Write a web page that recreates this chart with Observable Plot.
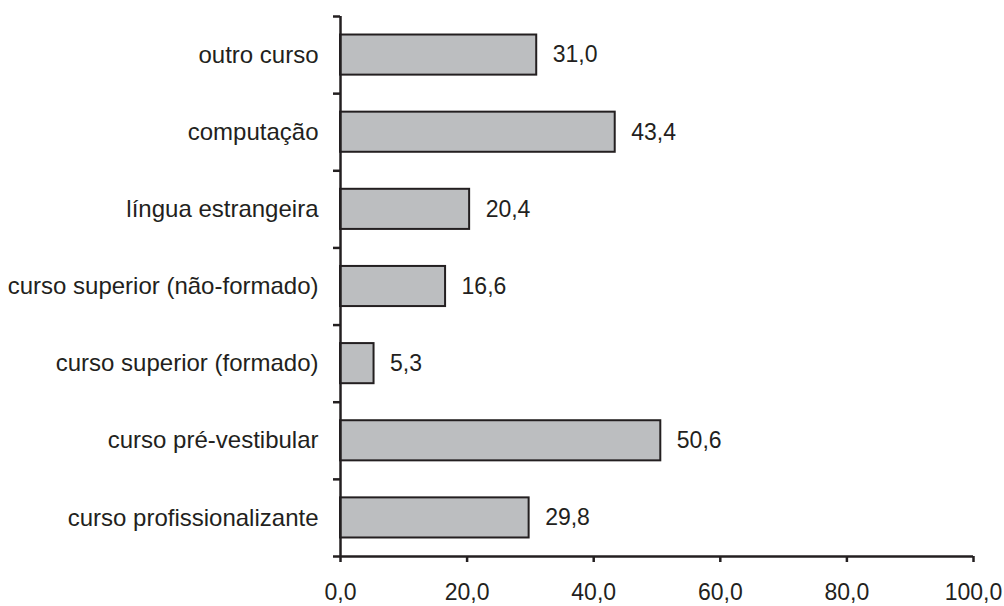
<!DOCTYPE html>
<html><head><meta charset="utf-8">
<script src="https://cdn.jsdelivr.net/npm/d3@7"></script>
<script src="https://cdn.jsdelivr.net/npm/@observablehq/plot@0.6"></script>
<style>body{margin:0;background:#fff}</style>
</head><body><div id="chart"></div>
<script>
const categories = ["curso profissionalizante","curso pré-vestibular","curso superior (formado)","curso superior (não-formado)","língua estrangeira","computação","outro curso"];
const values = [29.8, 50.6, 5.3, 16.6, 20.4, 43.4, 31.0];
const xTicks = [0, 20, 40, 60, 80, 100];

const data = categories.map((c, i) => ({category: c, value: values[i], index: i}));
const fmt = v => d3.format(".1f")(v).replace(".", ",");
const ink = "#231f20";

const chart = Plot.plot({
  width: 1004, height: 606,
  marginLeft: 340, marginRight: 31, marginTop: 16, marginBottom: 50,
  style: {fontFamily: "'Liberation Sans', Arial, sans-serif", fontSize: "24px", color: ink, background: "#fff"},
  x: {domain: [0, 100], label: null},
  y: {domain: [0, categories.length], label: null},
  marks: [
    Plot.rectX(data, {x1: 0, x2: "value", y1: d => d.index + 0.24, y2: d => d.index + 0.76, fill: "#bcbec0", stroke: ink, strokeWidth: 2}),
    Plot.text(data, {x: "value", y: d => d.index + 0.5, text: d => fmt(d.value), dx: 16, textAnchor: "start", fill: ink, fontSize: 23}),
    Plot.axisY(d3.range(categories.length + 1), {tickSize: 7, tickFormat: () => "", strokeWidth: 2.5, label: null}),
    Plot.axisY(data.map(d => d.index + 0.5), {tickSize: 0, tickPadding: 22, tickFormat: d => categories[Math.floor(d)], fontSize: 24, label: null}),
    Plot.ruleX([0], {stroke: ink, strokeWidth: 2.5}),
    Plot.ruleY([0], {stroke: ink, strokeWidth: 2.5}),
    Plot.axisX(xTicks, {tickSize: 6, tickPadding: 21, tickFormat: fmt, strokeWidth: 2.5, fontSize: 23, label: null})
  ]
});
document.getElementById("chart").appendChild(chart);
</script>
</body></html>
